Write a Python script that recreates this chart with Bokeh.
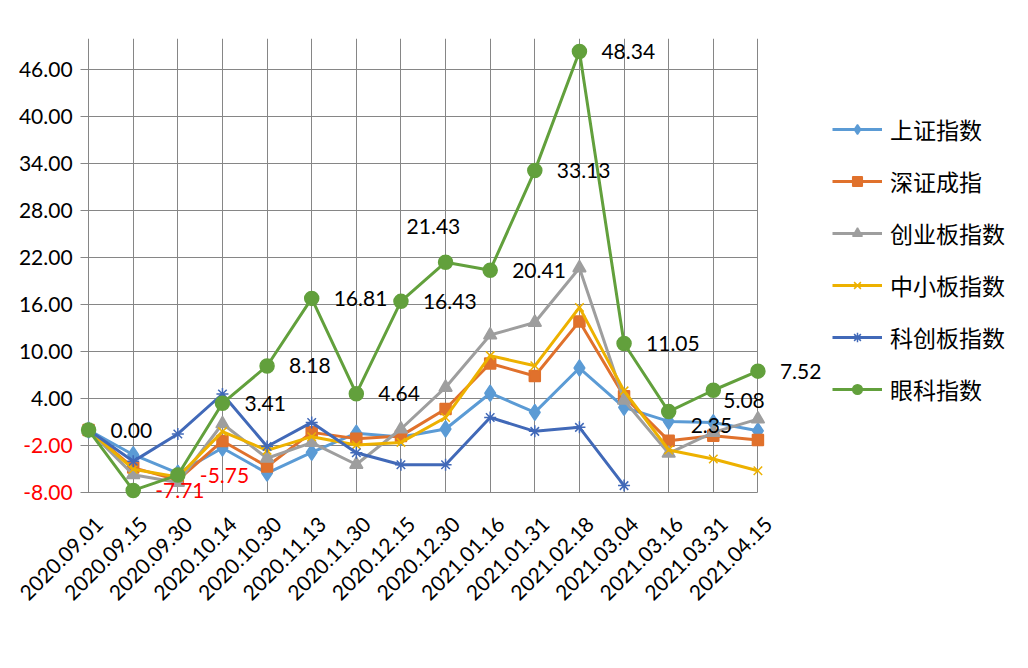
from math import pi, nan

from bokeh.core.properties import value
from bokeh.embed import file_html
from bokeh.models import (ColumnDataSource, FixedTicker, LabelSet, Legend,
                          LegendItem, Range1d)
from bokeh.plotting import figure
from bokeh.resources import INLINE

dates = ['2020.09.01', '2020.09.15', '2020.09.30', '2020.10.14', '2020.10.30',
         '2020.11.13', '2020.11.30', '2020.12.15', '2020.12.30', '2021.01.16',
         '2021.01.31', '2021.02.18', '2021.03.04', '2021.03.16', '2021.03.31',
         '2021.04.15']

shanghai = [0, -3.15, -5.5, -2.3, -5.5, -2.85, -0.4, -0.9, 0.13, 4.7, 2.25,
            7.92, 2.9, 1.1, 0.95, -0.1]
shenzhen = [0, -4.8, -6.4, -1.4, -4.65, -0.3, -1.1, -0.75, 2.68, 8.5, 6.9,
            13.87, 4.3, -1.36, -0.72, -1.27]
chinext = [0, -5.7, -6.7, 0.8, -3.6, -1.6, -4.4, 0.13, 5.44, 12.13, 13.74,
           20.7, 3.8, -2.98, -0.3, 1.4]
sme = [0, -5.0, -6.0, -0.2, -2.6, -0.85, -1.9, -1.58, 1.6, 9.5, 8.2, 15.66,
       5.0, -2.55, -3.7, -5.2]
star = [0, -4.0, -0.5, 4.6, -2.1, 0.97, -2.9, -4.43, -4.43, 1.6, -0.17, 0.34,
        -7.1, nan, nan, nan]
eye = [0.00, -7.71, -5.75, 3.41, 8.18, 16.81, 4.64, 16.43, 21.43, 20.41,
       33.13, 48.34, 11.05, 2.35, 5.08, 7.52]

names = ['上证指数', '深证成指', '创业板指数', '中小板指数', '科创板指数', '眼科指数']
y_ticks = [-8, -2, 4, 10, 16, 22, 28, 34, 40, 46]
y_min, y_max = -8, 50

# style per series: colour, marker, size
styles = [('#5B9BD5', 'diamond', 16), ('#E0712C', 'square', 11),
          ('#9E9E9E', 'triangle', 13), ('#EDB100', 'x', 12),
          ('#4169B8', 'asterisk', 12), ('#62A03C', 'circle', 14)]
# a few data labels were moved by hand in the original
label_nudge = {8: (-61, 36), 13: (0, -14), 14: (-12, -10)}

GRID = '#868686'
NUM_FONT = 'Lato'
NUM_SIZE = '21px'
CJK_FONT = 'Noto Sans CJK SC'

x = list(range(len(dates)))
last = len(dates) - 1

# annotations are clipped to the frame, so the frame covers the tick labels
# and the legend; grid lines are bounded to the real plot area
p = figure(width=1020, height=660, output_backend='svg', toolbar_location=None,
           x_range=Range1d(-1.75, 20.75), y_range=Range1d(y_min - 1, y_max),
           min_border_left=10, min_border_right=6, min_border_top=38,
           min_border_bottom=160)
p.outline_line_color = None
p.yaxis.visible = False

xax = p.xaxis[0]
lab_ticks = [i + 0.24 for i in x]
xax.ticker = FixedTicker(ticks=lab_ticks)
xax.major_label_overrides = {t: d for t, d in zip(lab_ticks, dates)}
xax.major_label_orientation = pi / 4
xax.major_label_standoff = 20
xax.major_tick_out = 0
xax.major_tick_in = 0
xax.minor_tick_line_color = None
xax.axis_line_color = None
xax.major_label_text_font = NUM_FONT
xax.major_label_text_font_size = NUM_SIZE
xax.major_label_text_color = 'black'

p.xgrid.ticker = FixedTicker(ticks=x)
p.ygrid.ticker = FixedTicker(ticks=y_ticks)
p.grid.grid_line_color = GRID
p.grid.grid_line_width = 1
p.xgrid.cross_bounds = (y_min, y_max)
p.ygrid.cross_bounds = (-0.18, last)

# y tick labels, negatives in red
ytick_src = ColumnDataSource(dict(
    x=[0] * len(y_ticks), y=y_ticks, text=['%.2f' % t for t in y_ticks],
    color=['red' if t < 0 else 'black' for t in y_ticks]))
p.add_layout(LabelSet(x='x', y='y', text='text', source=ytick_src,
                      x_offset=-16, text_align='right', text_baseline='middle',
                      text_color='color', text_font=value(NUM_FONT),
                      text_font_size=NUM_SIZE))

items = []
for name, ys, (color, marker, size) in zip(
        names, [shanghai, shenzhen, chinext, sme, star, eye], styles):
    src = ColumnDataSource(dict(x=x, y=ys))
    ln = p.line('x', 'y', source=src, line_color=color, line_width=3)
    mk = p.scatter('x', 'y', source=src, marker=marker, size=size,
                   fill_color=color, line_color=color, line_width=1.5)
    items.append(LegendItem(label=name, renderers=[ln, mk]))

legend = Legend(items=items, location=(822, 94), orientation='vertical',
                label_text_font=CJK_FONT, label_text_font_size='23px',
                label_text_color='black',
                label_height=26, glyph_height=24, glyph_width=50, spacing=18,
                padding=0, margin=0, label_standoff=8,
                border_line_color=None, background_fill_alpha=0)
p.add_layout(legend, 'center')

# data labels on the eye-care index
dx = [22 + label_nudge.get(i, (0, 0))[0] for i in x]
dy = [label_nudge.get(i, (0, 0))[1] for i in x]
lab_src = ColumnDataSource(dict(
    x=x, y=eye, dx=dx, dy=dy, text=['%.2f' % v for v in eye],
    color=['red' if v < 0 else 'black' for v in eye]))
p.add_layout(LabelSet(x='x', y='y', text='text', source=lab_src,
                      x_offset='dx', y_offset='dy', text_align='left',
                      text_baseline='middle', text_color='color',
                      text_font=value(NUM_FONT), text_font_size=NUM_SIZE))

open('out.html', 'w').write(file_html(p, INLINE))
